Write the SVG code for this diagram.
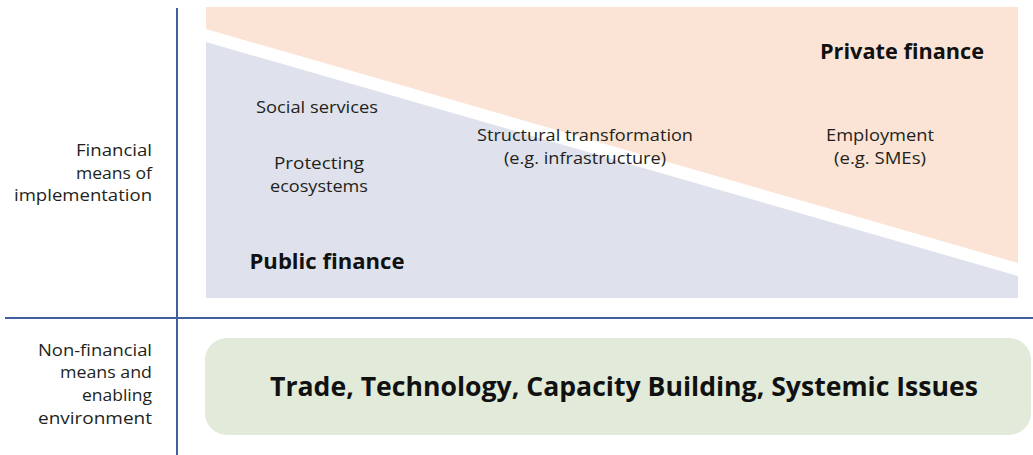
<svg xmlns="http://www.w3.org/2000/svg" width="1033" height="455" viewBox="0 0 1033 455">
<style>
.t{font-family:"Open Sans","Liberation Sans",sans-serif;font-size:16px;fill:#231f20;text-anchor:middle}
.l{font-family:"Open Sans","Liberation Sans",sans-serif;font-size:16px;fill:#231f20;text-anchor:end}
.b{font-family:"Open Sans","Liberation Sans",sans-serif;font-weight:bold;fill:#111;text-anchor:middle}
.ax{stroke:#3f5f9f;stroke-width:2;fill:none}
</style>
<rect width="1033" height="455" fill="#fff"/>
<g id="private">
<polygon points="206,7 1018,7 1018,263 206,29" fill="#fbe4d5"/>
<text class="b" x="902" y="59" font-size="21" textLength="164" lengthAdjust="spacingAndGlyphs">Private finance</text>
<text class="t" x="880" y="141" textLength="108" lengthAdjust="spacingAndGlyphs">Employment</text>
<text class="t" x="880" y="164" textLength="92" lengthAdjust="spacingAndGlyphs">(e.g. SMEs)</text>
</g>
<g id="public">
<polygon points="206,42 1018,276 1018,298 206,298" fill="#dfe2ec"/>
<text class="b" x="327" y="269" font-size="21" textLength="155" lengthAdjust="spacingAndGlyphs">Public finance</text>
<text class="t" x="317" y="113" textLength="122" lengthAdjust="spacingAndGlyphs">Social services</text>
<text class="t" x="319" y="169" textLength="90" lengthAdjust="spacingAndGlyphs">Protecting</text>
<text class="t" x="319" y="192" textLength="98" lengthAdjust="spacingAndGlyphs">ecosystems</text>
</g>
<g id="structural">
<text class="t" x="585" y="141" textLength="216" lengthAdjust="spacingAndGlyphs">Structural transformation</text>
<text class="t" x="585" y="164" textLength="162" lengthAdjust="spacingAndGlyphs">(e.g. infrastructure)</text>
</g>
<g id="nonfinancial">
<rect x="205" y="338" width="826" height="97" rx="22" fill="#e2ead9"/>
<text class="b" x="624" y="396" font-size="27" textLength="708" lengthAdjust="spacingAndGlyphs">Trade, Technology, Capacity Building, Systemic Issues</text>
</g>
<g id="labels">
<text class="l" x="152" y="156" textLength="76" lengthAdjust="spacingAndGlyphs">Financial</text>
<text class="l" x="152" y="179" textLength="76" lengthAdjust="spacingAndGlyphs">means of</text>
<text class="l" x="152" y="201" textLength="138" lengthAdjust="spacingAndGlyphs">implementation</text>
<text class="l" x="152" y="356" textLength="114" lengthAdjust="spacingAndGlyphs">Non-financial</text>
<text class="l" x="152" y="378" textLength="92" lengthAdjust="spacingAndGlyphs">means and</text>
<text class="l" x="152" y="401" textLength="70" lengthAdjust="spacingAndGlyphs">enabling</text>
<text class="l" x="152" y="424" textLength="114" lengthAdjust="spacingAndGlyphs">environment</text>
</g>
<g id="connectors">
<line class="ax" x1="177" y1="8" x2="177" y2="455"/>
<line class="ax" x1="5" y1="318" x2="1033" y2="318"/>
</g>
</svg>
